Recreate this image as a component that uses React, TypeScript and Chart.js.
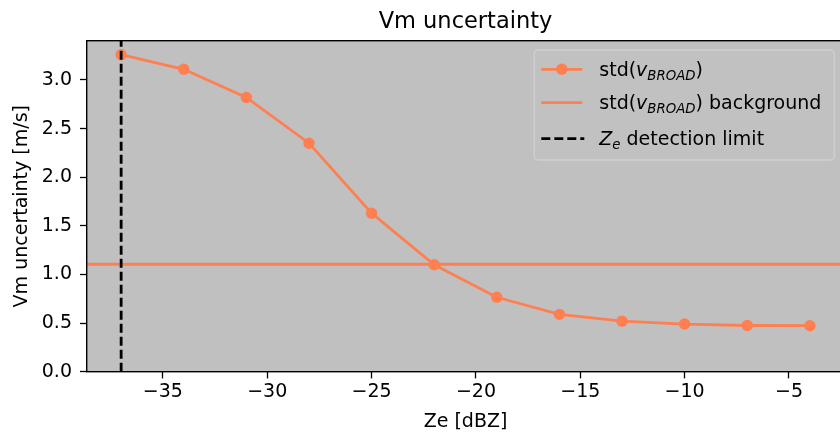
import { useEffect, useRef } from "react";
import { Chart, registerables } from "chart.js";

Chart.register(...registerables);

// Reflectivity bins [dBZ] and the spread of v_BROAD in each bin [m/s]
const ZE_DBZ = [-37, -34, -31, -28, -25, -22, -19, -16, -13, -10, -7, -4];
const STD_VBROAD = [3.26, 3.11, 2.82, 2.35, 1.63, 1.1, 0.765, 0.59, 0.52, 0.49, 0.475, 0.473];
// Background level of std(v_BROAD) and the Ze detection limit
const STD_BACKGROUND = 1.105;
const ZE_DETECTION_LIMIT = -37;

const X_TICKS = [-35, -30, -25, -20, -15, -10, -5];
const Y_TICKS = [0, 0.5, 1, 1.5, 2, 2.5, 3];
const X_RANGE = [-38.65, -2.35];
const Y_RANGE = [0, 3.404];

const TITLE = "Vm uncertainty";
const X_LABEL = "Ze [dBZ]";
const Y_LABEL = "Vm uncertainty [m/s]";

type Run = { text: string; italic?: boolean; sub?: boolean };
const LEGEND_SERIES: Run[] = [
  { text: "std(" },
  { text: "v", italic: true },
  { text: "BROAD", italic: true, sub: true },
  { text: ")" },
];
const LEGEND_BACKGROUND: Run[] = [...LEGEND_SERIES, { text: " background" }];
const LEGEND_LIMIT: Run[] = [
  { text: "Z", italic: true },
  { text: "e", italic: true, sub: true },
  { text: " detection limit" },
];

const FONT = '"DejaVu Sans", "Liberation Sans", sans-serif';
const CORAL = "#ff7f50";
const AXES_BG = "#c0c0c0";
const TICK_SIZE = 19;
const TITLE_SIZE = 22.5;
const LINE_W = 2.8;
const MARKER_R = 5.7;
const DASH = [9, 4];

function drawRuns(ctx: CanvasRenderingContext2D, runs: Run[], x: number, y: number, size: number) {
  let cx = x;
  for (const r of runs) {
    const fs = r.sub ? size * 0.7 : size;
    ctx.font = `${r.italic ? "italic " : ""}${fs}px ${FONT}`;
    ctx.fillText(r.text, cx, y + (r.sub ? size * 0.22 : 0));
    cx += ctx.measureText(r.text).width;
  }
}

const decorations = {
  id: "decorations",
  beforeDatasetsDraw(chart: any) {
    const { ctx, chartArea: a, scales } = chart;
    ctx.save();
    ctx.fillStyle = AXES_BG;
    ctx.fillRect(a.left, a.top, a.right - a.left, a.bottom - a.top);
    // background level
    const yb = scales.y.getPixelForValue(STD_BACKGROUND);
    ctx.strokeStyle = CORAL;
    ctx.lineWidth = LINE_W;
    ctx.beginPath();
    ctx.moveTo(a.left, yb);
    ctx.lineTo(a.right, yb);
    ctx.stroke();
    ctx.restore();
  },
  afterDatasetsDraw(chart: any) {
    const { ctx, chartArea: a, scales } = chart;
    ctx.save();
    // detection limit
    const xd = scales.x.getPixelForValue(ZE_DETECTION_LIMIT);
    ctx.strokeStyle = "#000";
    ctx.lineWidth = LINE_W;
    ctx.setLineDash(DASH);
    ctx.beginPath();
    ctx.moveTo(xd, a.bottom);
    ctx.lineTo(xd, a.top);
    ctx.stroke();
    ctx.setLineDash([]);

    // axes frame
    ctx.strokeStyle = "#000";
    ctx.lineWidth = 1.4;
    ctx.strokeRect(a.left, a.top, a.right - a.left, a.bottom - a.top);

    // legend
    const bw = 300;
    const bh = 110;
    const bx = a.right - 10 - bw;
    const by = a.top + 9.3;
    ctx.fillStyle = "rgba(192,192,192,0.8)";
    ctx.strokeStyle = "rgba(210,210,210,0.9)";
    ctx.lineWidth = 1.3;
    ctx.beginPath();
    ctx.roundRect(bx, by, bw, bh, 4);
    ctx.fill();
    ctx.stroke();

    const hx0 = bx + 7;
    const hx1 = bx + 48;
    const tx = bx + 65;
    const rows = [by + 19.3, by + 52.7, by + 88.7];

    ctx.lineWidth = LINE_W;
    ctx.strokeStyle = CORAL;
    ctx.beginPath();
    ctx.moveTo(hx0, rows[0]);
    ctx.lineTo(hx1, rows[0]);
    ctx.stroke();
    ctx.fillStyle = CORAL;
    ctx.beginPath();
    ctx.arc((hx0 + hx1) / 2, rows[0], MARKER_R, 0, Math.PI * 2);
    ctx.fill();

    ctx.beginPath();
    ctx.moveTo(hx0, rows[1]);
    ctx.lineTo(hx1, rows[1]);
    ctx.stroke();

    ctx.strokeStyle = "#000";
    ctx.setLineDash(DASH);
    ctx.beginPath();
    ctx.moveTo(hx0, rows[2]);
    ctx.lineTo(hx1 + 2, rows[2]);
    ctx.stroke();
    ctx.setLineDash([]);

    ctx.fillStyle = "#000";
    ctx.textAlign = "left";
    ctx.textBaseline = "alphabetic";
    drawRuns(ctx, LEGEND_SERIES, tx, rows[0] + 6.5, TICK_SIZE);
    drawRuns(ctx, LEGEND_BACKGROUND, tx, rows[1] + 6.5, TICK_SIZE);
    drawRuns(ctx, LEGEND_LIMIT, tx, rows[2] + 6.5, TICK_SIZE);
    ctx.restore();
  },
  afterDraw(chart: any) {
    const { ctx, chartArea: a } = chart;
    ctx.save();
    ctx.fillStyle = "#000";
    ctx.textAlign = "center";
    ctx.textBaseline = "alphabetic";
    ctx.font = `${TITLE_SIZE}px ${FONT}`;
    ctx.fillText(TITLE, (a.left + a.right) / 2, 28);
    ctx.font = `${TICK_SIZE}px ${FONT}`;
    ctx.fillText(X_LABEL, (a.left + a.right) / 2, 427);
    ctx.translate(27, (a.top + a.bottom) / 2);
    ctx.rotate(-Math.PI / 2);
    ctx.fillText(Y_LABEL, 0, 0);
    ctx.restore();
  },
};

const fmtX = (v: number) => (v < 0 ? "\u2212" + Math.abs(v) : String(v));

export default function App() {
  const ref = useRef<HTMLCanvasElement | null>(null);

  useEffect(() => {
    document.body.style.margin = "0";
    const canvas = ref.current;
    if (!canvas) return;
    const chart = new Chart(canvas, {
      type: "scatter",
      data: {
        datasets: [
          {
            label: "std(v_BROAD)",
            data: ZE_DBZ.map((x, i) => ({ x, y: STD_VBROAD[i] })),
            showLine: true,
            borderColor: CORAL,
            backgroundColor: CORAL,
            borderWidth: LINE_W,
            pointRadius: MARKER_R,
            pointBorderWidth: 0,
            pointBackgroundColor: CORAL,
          },
        ],
      },
      plugins: [decorations],
      options: {
        responsive: false,
        devicePixelRatio: 1,
        animation: false,
        events: [],
        layout: { padding: { top: 40.7, right: 5, left: 0, bottom: 0 } },
        plugins: {
          legend: { display: false },
          title: { display: false },
          tooltip: { enabled: false },
        },
        scales: {
          x: {
            type: "linear",
            position: "bottom",
            min: X_RANGE[0],
            max: X_RANGE[1],
            afterBuildTicks: (s: any) => {
              s.ticks = X_TICKS.map((value) => ({ value }));
            },
            afterFit: (s: any) => {
              s.height = 61.3;
            },
            ticks: {
              autoSkip: false,
              maxRotation: 0,
              padding: 2,
              color: "#000",
              font: { family: FONT, size: TICK_SIZE },
              callback: (v: any) => fmtX(Number(v)),
            },
            grid: {
              drawOnChartArea: false,
              drawTicks: true,
              tickLength: 6.7,
              tickWidth: 1.3,
              tickColor: "#000",
            },
            border: { display: false },
          },
          y: {
            type: "linear",
            position: "left",
            min: Y_RANGE[0],
            max: Y_RANGE[1],
            afterBuildTicks: (s: any) => {
              s.ticks = Y_TICKS.map((value) => ({ value }));
            },
            afterFit: (s: any) => {
              s.width = 86.7;
            },
            ticks: {
              autoSkip: false,
              padding: 8,
              color: "#000",
              font: { family: FONT, size: TICK_SIZE },
              callback: (v: any) => Number(v).toFixed(1),
            },
            grid: {
              drawOnChartArea: false,
              drawTicks: true,
              tickLength: 6.7,
              tickWidth: 1.3,
              tickColor: "#000",
            },
            border: { display: false },
          },
        },
      },
    } as any);
    return () => chart.destroy();
  }, []);

  return (
    <div
      style={{
        position: "fixed",
        left: 0,
        top: 0,
        width: 840,
        height: 433,
        overflow: "hidden",
        background: "#fff",
      }}
    >
      <canvas ref={ref} width={850} height={433} style={{ display: "block", width: 850, height: 433 }} />
    </div>
  );
}
